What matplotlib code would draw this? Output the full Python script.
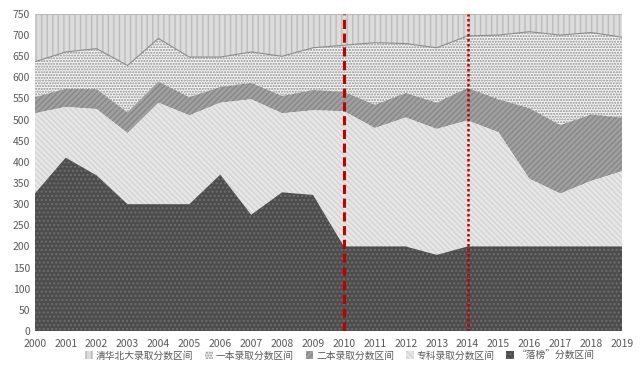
import numpy as np
import matplotlib
matplotlib.use('Agg')
import matplotlib.pyplot as plt

plt.rcParams['font.family'] = ['Noto Sans CJK SC', 'DejaVu Sans']
plt.rcParams['hatch.linewidth'] = 1.0

# years and score lines (boundaries between bands)
years = list(range(2000, 2020))
top_score = 750
line_qb = [637, 660, 668, 628, 692, 648, 648, 660, 650, 670,
           676, 682, 680, 670, 698, 700, 708, 700, 706, 695]   # 清华北大 cutoff
line_yb = [553, 573, 572, 517, 590, 553, 577, 587, 556, 570,
           566, 535, 563, 540, 575, 548, 527, 487, 512, 505]   # 一本 cutoff
line_eb = [515, 530, 525, 468, 540, 510, 540, 548, 515, 522,
           520, 480, 505, 478, 498, 470, 360, 325, 355, 378]   # 二本 cutoff
line_zk = [325, 410, 368, 300, 300, 300, 370, 275, 328, 322,
           200, 200, 200, 180, 200, 200, 200, 200, 200, 200]   # 专科 cutoff

labels = ['清华北大录取分数区间', '一本录取分数区间', '二本录取分数区间',
          '专科录取分数区间', '“落榜”分数区间']

x = np.array(years)
top = np.full(len(years), top_score)

fig, ax = plt.subplots(figsize=(6.44, 3.77), dpi=100)
fig.subplots_adjust(left=0.054, right=0.966, top=0.963, bottom=0.122)

h1 = ax.fill_between(x, line_qb, top, facecolor='#DCDCDC', edgecolor='#BCBCBC',
                     hatch='|||', lw=0)
h2 = ax.fill_between(x, line_yb, line_qb, facecolor='#F4F4F4', edgecolor='#8E8E8E',
                     hatch='......', lw=0)
h3 = ax.fill_between(x, line_eb, line_yb, facecolor='#A0A0A0', edgecolor='#888888',
                     hatch='//////', lw=0)
h4 = ax.fill_between(x, line_zk, line_eb, facecolor='#E6E6E6', edgecolor='#D4D4D4',
                     hatch='\\\\\\\\\\\\', lw=0)
h5 = ax.fill_between(x, 0, line_zk, facecolor='#4D4D4D', edgecolor='#6E6E6E',
                     hatch='....', lw=0)
ax.plot(x, line_qb, color='#8C8C8C', lw=0.8)
ax.plot(x, top, color='#BBBBBB', lw=0.8)

ax.axvline(2010, color='#C00000', ls=(0, (3, 1.5)), lw=2.2)
ax.axvline(2014, color='#C00000', ls=(0, (1, 1)), lw=1.8)

ax.set_xlim(2000, 2019)
ax.set_ylim(0, 750)
ax.set_xticks(years)
ax.set_yticks(np.arange(0, 751, 50))
ax.tick_params(length=0, labelsize=7.5, colors='#595959')
ax.tick_params(axis='x', pad=6)
for s in ax.spines.values():
    s.set_visible(False)

ax.legend([h1, h2, h3, h4, h5], labels, ncol=5, frameon=False,
          loc='center', bbox_to_anchor=(0.52, -0.077),
          fontsize=7, handlelength=0.8, handleheight=0.8,
          handletextpad=0.3, columnspacing=1.2, labelcolor='#595959')

fig.savefig('out.png', dpi=100)
